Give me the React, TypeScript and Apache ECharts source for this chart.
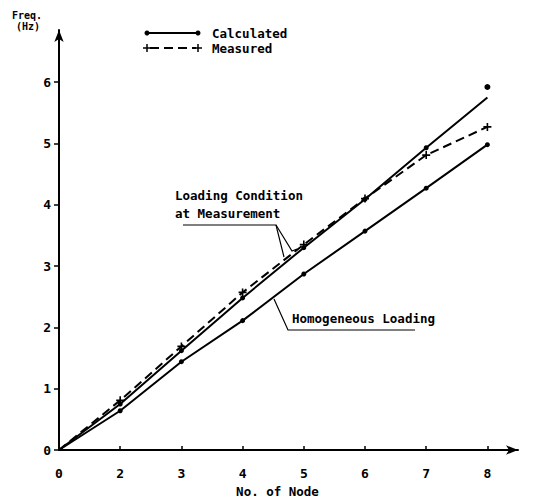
import React, { useEffect, useRef } from 'react';
import * as echarts from 'echarts';

// Node labels along the x axis (equally spaced in the original figure)
const nodeLabels = ['0', '2', '3', '4', '5', '6', '7', '8'];
// Calculated, loading condition at measurement (solid, dots)
const calcMeasurement = [0, 0.75, 1.62, 2.48, 3.3, 4.09, 4.93, 5.75];
// Separate calculated point at node 8
const calcExtraNode = '8';
const calcExtraValue = 5.92;
// Measured (dashed, + markers)
const measured = [0, 0.81, 1.69, 2.57, 3.35, 4.1, 4.81, 5.27];
// Calculated, homogeneous loading (solid, dots)
const calcHomogeneous = [0, 0.64, 1.44, 2.11, 2.87, 3.57, 4.27, 4.98];
const yTicks = [0, 1, 2, 3, 4, 5, 6];

const FONT = 'DejaVu Sans Mono';
const PLUS = 'path://M4,0H6V4H10V6H6V10H4V6H0V4H4Z';

export default function App() {
  const ref = useRef<HTMLDivElement>(null);
  useEffect(() => {
    if (!ref.current) return;
    const chart = echarts.init(ref.current, null, { renderer: 'svg' });
    const xIdx = nodeLabels.map((_, i) => i);
    const toData = (arr: number[], hideIdx: number[]) =>
      arr.map((v, i) => (hideIdx.includes(i) ? { value: [i, v], symbol: 'none' } : { value: [i, v] }));
    const txt = (text: string, x: number, y: number, size = 12.5, align = 'left') => ({
      type: 'text',
      style: { text, x, y, fill: '#000', fontSize: size, fontFamily: FONT, fontWeight: 'bold', align, verticalAlign: 'middle' },
    });
    const ln = (x1: number, y1: number, x2: number, y2: number, w = 1.5, dash?: number[]) => ({
      type: 'line',
      shape: { x1, y1, x2, y2 },
      style: { stroke: '#000', lineWidth: w, lineDash: dash },
    });
    chart.setOption({
      animation: false,
      backgroundColor: '#fff',
      grid: { left: 59, right: 18, top: 30, bottom: 54 },
      xAxis: {
        type: 'value',
        min: 0,
        max: 7.5,
        interval: 1,
        name: 'No. of Node',
        nameLocation: 'middle',
        nameGap: 32,
        nameTextStyle: { color: '#000', fontFamily: FONT, fontWeight: 'bold', fontSize: 12.5, padding: [0, 22, 0, 0] },
        splitLine: { show: false },
        axisLine: { show: true, symbol: ['none', 'arrow'], symbolSize: [7, 12], lineStyle: { color: '#000', width: 2 } },
        axisTick: { show: true, inside: true, length: 4, customValues: xIdx, lineStyle: { color: '#000', width: 1.5 } },
        axisLabel: {
          customValues: xIdx,
          formatter: (v: number) => nodeLabels[v] ?? '',
          color: '#000',
          fontFamily: FONT,
          fontWeight: 'bold',
          fontSize: 13,
          margin: 17,
        },
      },
      yAxis: {
        type: 'value',
        min: 0,
        max: 6.85,
        interval: 1,
        splitLine: { show: false },
        axisLine: { show: true, symbol: ['none', 'arrow'], symbolSize: [7, 12], lineStyle: { color: '#000', width: 2 } },
        axisTick: { show: true, length: 5, customValues: yTicks, lineStyle: { color: '#000', width: 1.5 } },
        axisLabel: {
          customValues: yTicks,
          color: '#000',
          fontFamily: FONT,
          fontWeight: 'bold',
          fontSize: 13,
          margin: 8,
        },
      },
      series: [
        {
          name: 'Calculated (at Measurement)',
          type: 'line',
          data: toData(calcMeasurement, [0, 7]),
          symbol: 'circle',
          symbolSize: 5,
          itemStyle: { color: '#000' },
          lineStyle: { color: '#000', width: 2 },
          z: 3,
        },
        {
          name: 'Calculated (node 8)',
          type: 'scatter',
          data: [[nodeLabels.indexOf(calcExtraNode), calcExtraValue]],
          symbol: 'circle',
          symbolSize: 6,
          itemStyle: { color: '#000', opacity: 1 },
        },
        {
          name: 'Measured',
          type: 'line',
          data: toData(measured, [0]),
          symbol: PLUS,
          symbolSize: 8,
          itemStyle: { color: '#000' },
          lineStyle: { color: '#000', width: 2, type: [9, 5] },
          z: 4,
        },
        {
          name: 'Homogeneous Loading',
          type: 'line',
          data: toData(calcHomogeneous, [0]),
          symbol: 'circle',
          symbolSize: 5,
          itemStyle: { color: '#000' },
          lineStyle: { color: '#000', width: 2 },
        },
      ],
      graphic: [
        txt('Freq.', 12, 15, 10),
        txt('(Hz)', 16, 26, 10),
        // legend
        ln(147, 33, 198, 33, 2),
        { type: 'circle', shape: { cx: 147, cy: 33, r: 2.5 }, style: { fill: '#000' } },
        { type: 'circle', shape: { cx: 198, cy: 33, r: 2.5 }, style: { fill: '#000' } },
        txt('Calculated', 212, 33),
        ln(150, 48, 196, 48, 2, [9, 5]),
        ln(143, 48, 151, 48, 1.5),
        ln(147, 44, 147, 52, 1.5),
        ln(194, 48, 202, 48, 1.5),
        ln(198, 44, 198, 52, 1.5),
        txt('Measured', 212, 48),
        // Loading condition annotation
        txt('Loading Condition', 175, 195),
        txt('at Measurement', 175, 213),
        { type: 'polyline', shape: { points: [[183, 225], [276, 225], [284, 257]] }, style: { stroke: '#000', lineWidth: 1.2, fill: 'none' } },
        { type: 'polyline', shape: { points: [[276, 225], [292, 251], [297, 249]] }, style: { stroke: '#000', lineWidth: 1.2, fill: 'none' } },
        // Homogeneous annotation
        txt('Homogeneous Loading', 292, 318),
        { type: 'polyline', shape: { points: [[274, 299], [288, 330], [415, 330]] }, style: { stroke: '#000', lineWidth: 1.2, fill: 'none' } },
      ],
    });
    return () => chart.dispose();
  }, []);
  return <div ref={ref} style={{ width: 536, height: 504, margin: -8 }} />;
}
